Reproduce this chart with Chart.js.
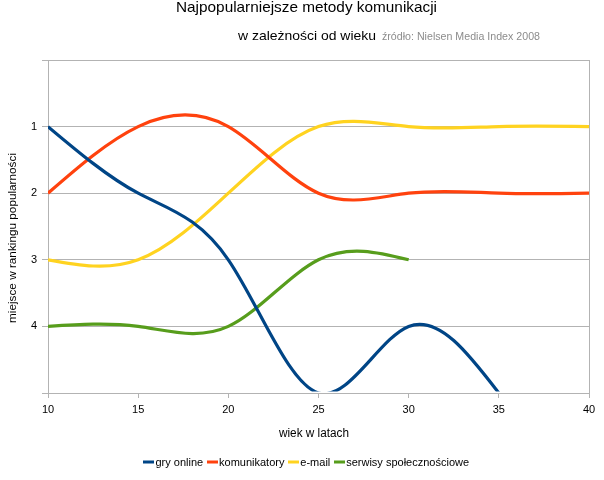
<!DOCTYPE html>
<html>
<head>
<meta charset="utf-8">
<script src="https://cdn.jsdelivr.net/npm/chart.js@4.4.0/dist/chart.umd.min.js"></script>
<style>
html,body{margin:0;padding:0;background:#fff;}
#wrap{width:604px;height:480px;position:relative;}
</style>
</head>
<body>
<div id="wrap"><canvas id="c" width="604" height="480"></canvas></div>
<script>
// ---- data ----
const ages = [10, 15, 20, 25, 30, 35, 40];
const seriesNames = ['gry online', 'komunikatory', 'e-mail', 'serwisy społecznościowe'];
const gryOnline = [1, 2, 3, 5, 4, 5, null];
const komunikatory = [2, 1, 1, 2, 2, 2, 2];
const email = [3, 3, 2, 1, 1, 1, 1];
const serwisy = [4, 4, 4, 3, 3, null, null];
const yTickLabels = ['', '1', '2', '3', '4', ''];
const titleText = 'Najpopularniejsze metody komunikacji';
const subtitleText = 'w zależności od wieku';
const sourceText = 'źródło: Nielsen Media Index 2008';
const xTitleText = 'wiek w latach';
const yTitleText = 'miejsce w rankingu popularności';

// ---- styles ----
const colors = ['#004586', '#ff420e', '#ffd320', '#579d1c'];
const GRID = '#b3b3b3';
const FAMILY = '"Liberation Sans", Arial, sans-serif';

const allSeries = [gryOnline, komunikatory, email, serwisy];
const datasets = allSeries.map((vals, i) => ({
  label: seriesNames[i],
  data: ages.map((a, j) => ({x: a, y: vals[j]})),
  borderColor: colors[i],
  backgroundColor: colors[i],
  borderWidth: 3.2,
  pointRadius: 0,
  pointHoverRadius: 0,
  tension: 0.4,
  fill: false,
  spanGaps: false,
  clip: {left: 0, top: 0, right: 0, bottom: -1.6}
}));

// natural cubic spline (like the office suite's "cubic spline") through the
// pixel positions that Chart.js computed for each point
function naturalSpline(run) {
  const n = run.length;
  if (n < 2) return;
  const xs = run.map(p => p.x), ys = run.map(p => p.y);
  const h = [], d = [];
  for (let i = 0; i < n - 1; i++) { h[i] = xs[i + 1] - xs[i]; d[i] = (ys[i + 1] - ys[i]) / h[i]; }
  const M = new Array(n).fill(0);
  if (n > 2) {
    const m = n - 2, a = [], b = [], c = [], r = [];
    for (let k = 0; k < m; k++) {
      const i = k + 1;
      a[k] = h[i - 1]; b[k] = 2 * (h[i - 1] + h[i]); c[k] = h[i]; r[k] = 6 * (d[i] - d[i - 1]);
    }
    for (let k = 1; k < m; k++) { const w = a[k] / b[k - 1]; b[k] -= w * c[k - 1]; r[k] -= w * r[k - 1]; }
    const sol = new Array(m);
    sol[m - 1] = r[m - 1] / b[m - 1];
    for (let k = m - 2; k >= 0; k--) sol[k] = (r[k] - c[k] * sol[k + 1]) / b[k];
    for (let k = 0; k < m; k++) M[k + 1] = sol[k];
  }
  for (let i = 0; i < n - 1; i++) {
    const s0 = d[i] - h[i] * (2 * M[i] + M[i + 1]) / 6;
    const s1 = d[i] + h[i] * (M[i] + 2 * M[i + 1]) / 6;
    run[i].cp2x = xs[i] + h[i] / 3; run[i].cp2y = ys[i] + s0 * h[i] / 3;
    run[i + 1].cp1x = xs[i + 1] - h[i] / 3; run[i + 1].cp1y = ys[i + 1] - s1 * h[i] / 3;
  }
  run[0].cp1x = xs[0]; run[0].cp1y = ys[0];
  run[n - 1].cp2x = xs[n - 1]; run[n - 1].cp2y = ys[n - 1];
}

const splinePlugin = {
  id: 'naturalSpline',
  beforeDatasetDraw(chart, args) {
    const meta = args.meta;
    const runs = []; let run = [];
    meta.data.forEach(p => { if (p.skip) { if (run.length) runs.push(run); run = []; } else run.push(p); });
    if (run.length) runs.push(run);
    runs.forEach(naturalSpline);
    meta.dataset._pointsUpdated = true;
  }
};

function fitText(ctx, text, x, y, width, center) {
  const w = ctx.measureText(text).width;
  const s = width / w;
  ctx.save();
  ctx.translate(x, y);
  ctx.scale(s, 1);
  ctx.textAlign = 'left';
  ctx.fillText(text, center ? -w / 2 : 0, 0);
  ctx.restore();
}

const textPlugin = {
  id: 'texts',
  afterDraw(chart) {
    const ctx = chart.ctx;
    ctx.save();
    ctx.fillStyle = '#000';
    ctx.textBaseline = 'alphabetic';
    // title
    ctx.font = '15px ' + FAMILY;
    fitText(ctx, titleText, 176, 12, 261, false);
    // subtitle + source
    ctx.font = '13.5px ' + FAMILY;
    fitText(ctx, subtitleText, 238, 40, 138, false);
    ctx.fillStyle = '#8c8c8c';
    ctx.font = '10.5px ' + FAMILY;
    fitText(ctx, sourceText, 382, 40, 158, false);
    // x axis title
    ctx.fillStyle = '#000';
    ctx.font = '12px ' + FAMILY;
    fitText(ctx, xTitleText, 314, 437, 70, true);
    // y axis title
    ctx.save();
    ctx.translate(15.5, 238);
    ctx.rotate(-Math.PI / 2);
    ctx.font = '11px ' + FAMILY;
    fitText(ctx, yTitleText, 0, 0, 170, true);
    ctx.restore();
    // legend
    ctx.font = '11px ' + FAMILY;
    ctx.textAlign = 'left';
    ctx.textBaseline = 'alphabetic';
    const items = chart.data.datasets.map(d => ({label: d.label, color: d.borderColor, w: ctx.measureText(d.label).width}));
    const total = items.reduce((s, it) => s + 12.5 + it.w, 0) + 3.4 * (items.length - 1);
    let x = 306 - total / 2;
    items.forEach(it => {
      ctx.fillStyle = it.color;
      ctx.fillRect(Math.round(x), 460.5, 11, 3);
      ctx.fillStyle = '#000';
      ctx.fillText(it.label, x + 12.5, 465.5);
      x += 12.5 + it.w + 3.4;
    });
    ctx.restore();
  }
};

new Chart(document.getElementById('c'), {
  type: 'line',
  data: {datasets},
  options: {
    responsive: false,
    animation: false,
    devicePixelRatio: 1,
    layout: {padding: {top: 60, right: 15, bottom: 0, left: 0}},
    elements: {line: {capBezierPoints: false}},
    plugins: {legend: {display: false}, tooltip: {enabled: false}, title: {display: false}},
    scales: {
      x: {
        type: 'linear', min: 10, max: 40,
        ticks: {stepSize: 5, color: '#000', padding: 5, font: {family: FAMILY, size: 11}, maxRotation: 0},
        grid: {
          color: c => (c.tick && c.tick.value === 40) ? GRID : 'rgba(0,0,0,0)',
          tickColor: GRID, tickLength: 5, drawOnChartArea: true, drawTicks: true
        },
        border: {display: true, color: GRID},
        afterFit: s => { s.height = 87; }
      },
      y: {
        type: 'linear', min: 0, max: 5, reverse: true,
        ticks: {stepSize: 1, color: '#000', padding: 5, font: {family: FAMILY, size: 11}, callback: v => yTickLabels[v]},
        grid: {color: GRID, tickColor: GRID, tickLength: 6, drawTicks: true},
        border: {display: true, color: GRID},
        afterFit: s => { s.width = 48; }
      }
    }
  },
  plugins: [splinePlugin, textPlugin]
});
</script>
</body>
</html>
